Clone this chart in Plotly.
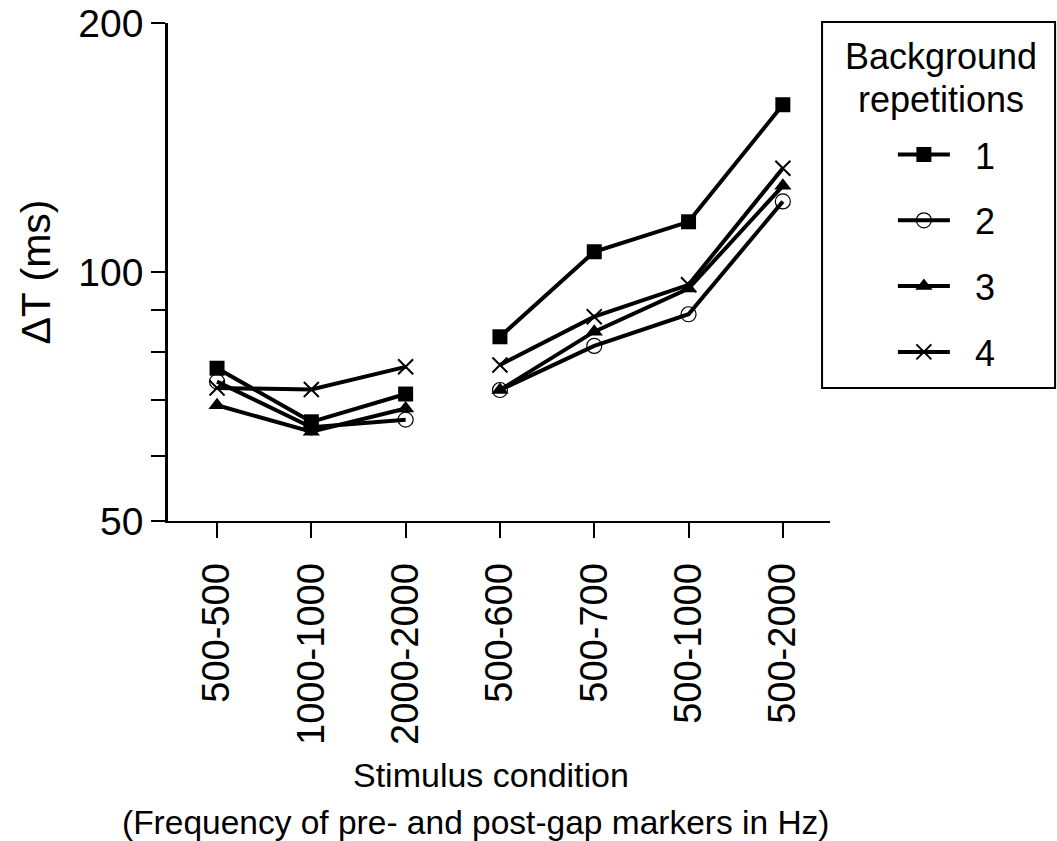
import plotly.graph_objects as go

# Stimulus conditions (pre-gap marker Hz - post-gap marker Hz)
conditions = ["500-500", "1000-1000", "2000-2000", "500-600", "500-700", "500-1000", "500-2000"]
# the first three are "same-frequency" markers, the last four "different-frequency"
group_a = [0, 1, 2]
group_b = [3, 4, 5, 6]

# Gap threshold ΔT (ms) for each number of background repetitions
rep1 = [76.5, 65.9, 71.2, 83.5, 105.8, 115.0, 159.3]
rep2 = [73.7, 64.9, 66.3, 72.0, 81.4, 88.9, 121.7]
rep3 = [69.0, 64.1, 68.4, 72.0, 84.7, 95.5, 127.1]
rep4 = [72.4, 72.1, 76.8, 77.2, 88.3, 96.5, 133.5]

# y-axis ticks (log scale); only the decade-doubling values carry labels
y_ticks = [50, 60, 70, 80, 90, 100, 200]
y_labeled = [50, 100, 200]

series = [
    ("1", rep1, dict(symbol="square", size=15, color="black")),
    ("2", rep2, dict(symbol="circle-open", size=15, color="black", line=dict(width=1.2, color="black"))),
    ("3", rep3, dict(symbol="triangle-up", size=15, color="black")),
    ("4", rep4, dict(symbol="x-thin-open", size=15, color="black", line=dict(width=2, color="black"))),
]

FONT = "Liberation Sans, Arial, Helvetica, sans-serif"
NBSP = "\u00a0"

fig = go.Figure()
for name, vals, marker in series:
    for k, idx in enumerate((group_a, group_b)):
        fig.add_trace(go.Scatter(
            x=idx,
            y=[vals[i] for i in idx],
            mode="lines+markers",
            name=NBSP * 2 + name,
            legendgroup=name,
            showlegend=(k == 0),
            line=dict(color="black", width=4),
            marker=marker,
        ))

fig.update_layout(
    width=1057,
    height=841,
    margin=dict(l=168, r=227, t=23, b=320, autoexpand=False),
    paper_bgcolor="white",
    plot_bgcolor="white",
    font=dict(family=FONT, size=33, color="black"),
    showlegend=True,
    legend=dict(
        x=1.095, xanchor="left",
        y=0.796, yanchor="top",
        bgcolor="rgba(0,0,0,0)",
        borderwidth=0,
        tracegroupgap=16,
        itemwidth=52,
        font=dict(family=FONT, size=36, color="black"),
    ),
    xaxis=dict(
        range=[-0.52, 6.5],
        tickmode="array",
        tickvals=list(range(len(conditions))),
        ticktext=conditions,
        tickangle=-90,
        showgrid=False,
        zeroline=False,
        showline=True,
        linecolor="black",
        linewidth=2,
        ticks="outside",
        ticklen=15,
        tickwidth=1.5,
        tickcolor="black",
        ticklabelstandoff=10,
        tickfont=dict(family=FONT, size=38),
        automargin=False,
    ),
    yaxis=dict(
        type="log",
        range=[1.69897, 2.30103],
        tickmode="array",
        tickvals=y_ticks,
        ticktext=[str(v) if v in y_labeled else "" for v in y_ticks],
        showgrid=False,
        zeroline=False,
        showline=True,
        linecolor="black",
        linewidth=2.5,
        ticks="outside",
        ticklen=14,
        tickwidth=2,
        tickcolor="black",
        tickfont=dict(family=FONT, size=39),
        title=dict(text="ΔT (ms)", font=dict(family=FONT, size=41), standoff=16),
        automargin=False,
    ),
)

# Legend frame and its two-line heading
fig.add_shape(type="rect", xref="paper", yref="paper",
              x0=0.988, x1=1.340, y0=0.267, y1=1.002,
              line=dict(color="black", width=2), fillcolor="rgba(0,0,0,0)")
fig.add_annotation(text="Background", xref="paper", yref="paper", x=1.167, y=0.932,
                   showarrow=False, xanchor="center", yanchor="middle",
                   font=dict(family=FONT, size=36))
fig.add_annotation(text="repetitions", xref="paper", yref="paper", x=1.167, y=0.846,
                   showarrow=False, xanchor="center", yanchor="middle",
                   font=dict(family=FONT, size=36))

# X axis title, two lines
fig.add_annotation(text="Stimulus condition", xref="paper", yref="paper", x=0.488, y=-0.51,
                   showarrow=False, xanchor="center", yanchor="middle",
                   font=dict(family=FONT, size=34))
fig.add_annotation(text="(Frequency of pre- and post-gap markers in Hz)", xref="paper", yref="paper",
                   x=0.466, y=-0.605, showarrow=False, xanchor="center", yanchor="middle",
                   font=dict(family=FONT, size=33.5))

fig.write_html("out.html")
